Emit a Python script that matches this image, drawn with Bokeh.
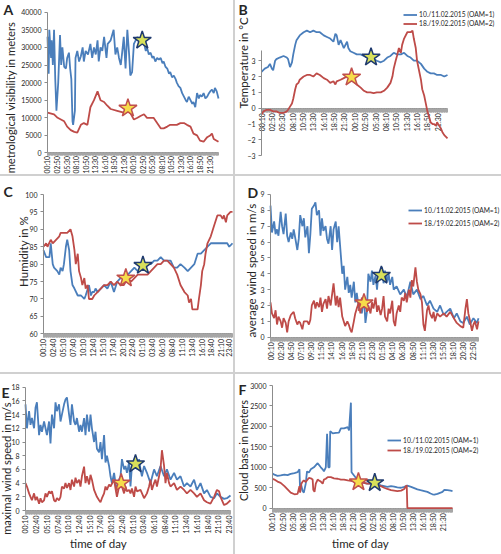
import math
from bokeh.plotting import figure
from bokeh.models import Range1d, FixedTicker, Legend, LegendItem, Div, Label
from bokeh.layouts import column, row
from bokeh.embed import file_html
from bokeh.resources import INLINE

FONT = "Lato"
BLUE = "#4a7ebb"
RED = "#be4b48"
AXIS_GRAY = "#8c8c8c"
TICK_GRAY = "#a6a6a6"
TEXT = "#262626"
SEP = "#d0d0d0"

series_names = ["10./11.02.2015 (OAM=1)", "18./19.02.2015 (OAM=2)"]

# x positions are 10-minute sample numbers (0 = 00:10 of the first day)
ticks_160 = ["00:10", "02:50", "05:30", "08:10", "10:50", "13:30", "16:10", "18:50", "21:30",
             "00:10", "02:50", "05:30", "08:10", "10:50", "13:30", "16:10", "18:50", "21:30"]
ticks_150 = ["00:10", "02:40", "05:10", "07:40", "10:10", "12:40", "15:10", "17:40", "20:10", "22:40",
             "01:10", "03:40", "06:10", "08:40", "11:10", "13:40", "16:10", "18:40", "21:10", "23:40"]
ticks_140 = ["00:10", "02:30", "04:50", "07:10", "09:30", "11:50", "14:10", "16:30", "18:50", "21:10", "23:30",
             "01:50", "04:10", "06:30", "08:50", "11:10", "13:30", "15:50", "18:10", "20:30", "22:50"]

# A: meteorological visibility (m)
vis_oam1 = [(0, 33000), (2, 22500), (3, 35000), (6, 27000), (7, 32000), (9, 25000), (11, 35000), (13, 21000),
            (15, 12000), (18, 20000), (21, 33500), (23, 25000), (25, 30000), (28, 24500), (31, 24000), (33, 27000),
            (36, 28500), (38, 24000), (40, 21000), (42, 9000), (43, 8000), (46, 12000), (47, 27000), (50, 29000),
            (53, 26000), (56, 27500), (59, 30000), (61, 26000), (64, 29000), (68, 28000), (72, 31000), (75, 27000),
            (78, 30000), (81, 28000), (84, 32000), (86, 26000), (89, 30000), (92, 29000), (95, 33000), (99, 27000),
            (101, 31000), (106, 32000), (111, 35000), (114, 28000), (117, 30000), (120, 27000), (123, 25000),
            (125, 28000), (128, 33000), (131, 24000), (134, 35000), (137, 28000), (139, 22000), (142, 23000),
            (145, 31000), (151, 33000), (156, 31000), (159, 32000), (162, 31000), (165, 29000), (167, 30000),
            (170, 28000), (173, 28500), (176, 27000), (178, 27500), (181, 26000), (184, 27000), (187, 26500),
            (190, 27000), (193, 25500), (195, 26000), (198, 24500), (201, 24000), (204, 22500), (206, 23000),
            (209, 21500), (212, 22000), (215, 21000), (217, 20000), (220, 19000), (223, 18500), (226, 17000),
            (229, 16000), (232, 15000), (234, 14500), (237, 16000), (240, 15000), (243, 14000), (245, 14500),
            (248, 13000), (251, 17000), (254, 15500), (256, 16500), (259, 16000), (262, 17000), (265, 15500),
            (268, 16000), (271, 17000), (273, 17500), (276, 18000), (279, 17000), (281, 18500), (284, 17500),
            (287, 15500)]
vis_oam2 = [(0, 11500), (11, 11000), (17, 10000), (28, 9000), (33, 7500), (39, 6500), (45, 6000), (50, 5800),
            (56, 8000), (61, 8500), (67, 8000), (72, 13000), (78, 15000), (84, 17500), (89, 15000), (95, 14500),
            (100, 13500), (106, 12500), (117, 12000), (128, 11500), (137, 12000), (145, 9500), (151, 10000),
            (156, 10500), (162, 11000), (167, 10000), (178, 10000), (184, 8500), (190, 7000), (195, 7000),
            (201, 7500), (206, 8000), (217, 8000), (223, 8500), (229, 8500), (234, 8000), (240, 7500), (245, 5500),
            (251, 5000), (256, 3500), (262, 3200), (268, 4500), (273, 5000), (276, 5500), (279, 4000), (284, 3500),
            (287, 3200)]
vis_stars = [(159, 32000), (135, 12700)]

# B: temperature (deg C)
temp_oam1 = [(0, 2.3), (5, 2.5), (10, 2.6), (13, 2.8), (16, 2.5), (18, 2.4), (21, 3.0), (23, 3.1), (28, 3.2),
             (34, 3.3), (39, 3.2), (41, 3.1), (44, 2.6), (47, 2.9), (49, 3.4), (52, 4.0), (54, 4.3), (59, 4.6),
             (65, 4.8), (70, 4.9), (75, 4.8), (80, 4.9), (85, 4.8), (90, 4.8), (96, 4.6), (101, 4.5), (106, 4.4),
             (111, 4.2), (114, 4.7), (116, 4.6), (119, 4.0), (122, 4.3), (127, 3.8), (132, 4.2), (134, 3.8),
             (137, 3.6), (142, 3.5), (147, 3.4), (153, 3.4), (158, 3.3), (163, 3.2), (168, 3.3), (173, 3.1),
             (178, 3.0), (184, 2.9), (189, 3.0), (194, 3.2), (199, 3.3), (204, 3.5), (209, 3.4), (215, 3.4),
             (220, 3.5), (225, 3.3), (230, 3.2), (235, 3.0), (240, 3.0), (246, 2.8), (251, 2.5), (256, 2.3),
             (261, 2.2), (266, 2.2), (271, 2.1), (277, 2.1), (282, 2.0), (287, 2.1)]
temp_oam2 = [(0, -0.4), (3, -0.2), (8, -0.1), (13, -0.1), (18, -0.2), (23, -0.2), (28, -0.3), (34, -0.3),
             (39, -0.2), (41, -0.1), (44, 0.1), (47, 0.3), (49, 0.6), (52, 1.2), (54, 1.5), (57, 1.6), (59, 1.8),
             (65, 2.0), (70, 2.1), (75, 2.1), (80, 2.0), (85, 2.2), (90, 2.1), (96, 1.9), (101, 1.8), (106, 1.6),
             (111, 1.7), (114, 1.5), (116, 1.7), (122, 1.8), (127, 1.9), (132, 2.0), (137, 1.9), (142, 1.7),
             (147, 1.5), (153, 1.3), (158, 1.1), (163, 1.0), (168, 1.0), (173, 0.95), (178, 1.0), (184, 1.0),
             (189, 1.1), (194, 1.3), (199, 1.6), (202, 2.0), (204, 2.5), (207, 3.0), (209, 3.3), (212, 3.8),
             (215, 3.5), (217, 4.0), (220, 4.4), (225, 4.8), (230, 4.8), (233, 4.9), (235, 4.4), (238, 3.8),
             (240, 3.0), (243, 2.4), (246, 1.8), (248, 1.2), (251, 0.8), (253, 0.4), (256, -0.2), (259, -0.6),
             (261, -0.9), (264, -1.0), (266, -1.0), (269, -1.1), (271, -0.9), (274, -1.1), (277, -1.3),
             (279, -1.5), (282, -1.7), (287, -1.9)]
temp_stars = [(169, 3.22), (139, 1.96)]

# C: humidity (%)
hum_oam1 = [(0, 84), (4, 82), (9, 82), (11, 86), (14, 80), (16, 79), (21, 78), (24, 77), (26, 79), (29, 78),
            (31, 80), (34, 85), (36, 87), (39, 84), (41, 78), (44, 74), (47, 73), (52, 71), (57, 71), (62, 70),
            (64, 71), (69, 74), (72, 71), (74, 72), (77, 72), (79, 73), (82, 72), (87, 73), (92, 74), (97, 73),
            (102, 75), (107, 72), (112, 75), (117, 76), (122, 76), (128, 77), (133, 78), (138, 79), (143, 78),
            (148, 79), (153, 79), (158, 80), (163, 80), (168, 81), (173, 81), (178, 82), (183, 81), (188, 81),
            (193, 81), (198, 79), (203, 79), (208, 80), (214, 79), (219, 78), (224, 79), (229, 80), (234, 83),
            (239, 83), (244, 84), (249, 85), (254, 86), (259, 86), (264, 86), (269, 86), (274, 86), (279, 86),
            (282, 85), (287, 86)]
hum_oam2 = [(0, 85), (4, 86), (6, 85), (11, 87), (14, 86), (19, 87), (24, 88), (26, 89), (36, 89), (41, 90),
            (44, 88), (47, 84), (49, 80), (52, 83), (54, 78), (57, 76), (59, 74), (62, 76), (64, 73), (67, 74),
            (69, 70), (74, 70), (77, 71), (82, 72), (87, 73), (92, 74), (97, 74), (102, 75), (107, 74), (112, 75),
            (117, 74), (122, 74), (128, 76), (133, 75), (138, 76), (143, 77), (148, 77), (153, 77), (158, 77),
            (163, 78), (168, 79), (173, 80), (178, 80), (183, 81), (188, 81), (193, 80), (198, 79), (203, 77),
            (208, 74), (214, 72), (219, 71), (221, 69), (224, 70), (226, 67), (231, 67), (234, 67), (236, 70),
            (239, 74), (241, 78), (244, 80), (246, 83), (249, 86), (254, 88), (259, 91), (264, 94), (269, 94),
            (272, 93), (274, 94), (277, 92), (279, 94), (284, 95), (287, 95)]
hum_stars = [(151, 79.6), (125, 76.0)]

# D: average wind speed (m/s)
avgwind_oam1 = [(0, 8.3), (2, 6.6), (5, 7.3), (7, 6.5), (9, 6.8), (11, 6.4), (14, 7.9), (16, 7.0), (18, 6.5),
                (21, 7.8), (23, 6.4), (25, 6.0), (28, 6.6), (30, 6.2), (32, 6.8), (34, 6.3), (37, 5.5), (39, 6.2),
                (41, 7.7), (44, 7.0), (46, 7.5), (48, 6.3), (51, 7.0), (53, 5.3), (55, 6.5), (57, 8.1), (60, 8.3),
                (62, 8.5), (64, 7.7), (67, 8.0), (69, 6.4), (71, 7.5), (73, 6.7), (76, 7.0), (78, 6.2), (80, 5.9),
                (83, 7.0), (85, 5.5), (87, 6.8), (90, 7.3), (92, 6.0), (94, 7.0), (96, 5.8), (99, 4.0), (101, 4.5),
                (103, 3.0), (106, 3.8), (108, 2.8), (110, 3.3), (112, 2.5), (115, 3.5), (117, 2.2), (119, 2.8),
                (122, 1.8), (124, 2.2), (126, 1.5), (129, 2.5), (131, 0.9), (133, 1.6), (135, 4.0), (138, 3.5),
                (140, 4.2), (142, 3.3), (145, 3.9), (147, 3.0), (149, 4.1), (152, 3.6), (154, 4.4), (156, 3.4),
                (158, 4.2), (161, 3.5), (163, 4.0), (165, 3.3), (168, 3.8), (170, 3.0), (174, 3.2), (179, 2.7),
                (184, 3.0), (188, 2.5), (193, 3.5), (197, 2.7), (202, 3.0), (207, 2.4), (211, 2.6), (216, 2.0),
                (220, 2.3), (225, 1.8), (230, 1.6), (234, 2.0), (239, 1.4), (243, 1.6), (248, 1.8), (253, 1.2),
                (257, 1.5), (262, 1.0), (266, 0.9), (271, 1.3), (275, 0.8), (280, 1.2), (285, 0.9), (287, 1.2)]
avgwind_oam2 = [(0, 2.2), (2, 1.5), (5, 1.2), (7, 1.7), (9, 0.8), (11, 1.3), (14, 1.0), (16, 0.6), (18, 1.2),
                (21, 0.9), (23, 0.3), (25, 1.0), (28, 1.4), (30, 1.5), (32, 1.6), (34, 1.2), (37, 0.8), (39, 1.0),
                (41, 0.9), (44, 0.5), (46, 1.0), (51, 1.0), (53, 0.8), (55, 1.1), (57, 2.0), (60, 2.3), (62, 1.8),
                (64, 2.2), (67, 1.9), (69, 2.5), (71, 1.6), (73, 2.1), (76, 2.4), (78, 1.8), (80, 2.6), (83, 2.0),
                (85, 2.7), (87, 3.4), (90, 2.0), (92, 2.6), (94, 1.9), (96, 2.5), (99, 1.3), (101, 1.0), (103, 0.7),
                (106, 1.0), (108, 0.8), (110, 0.5), (112, 0.3), (115, 1.0), (117, 1.5), (119, 1.8), (122, 2.2),
                (124, 1.5), (126, 2.5), (129, 2.0), (131, 2.3), (133, 1.6), (135, 2.0), (138, 1.5), (140, 2.2),
                (142, 1.8), (145, 2.5), (147, 1.6), (149, 2.0), (152, 1.4), (154, 1.8), (156, 2.6), (158, 1.3),
                (161, 1.0), (163, 1.8), (165, 1.5), (168, 2.3), (170, 1.0), (172, 0.7), (174, 1.5), (177, 2.0),
                (179, 1.6), (181, 2.5), (184, 2.3), (186, 2.8), (188, 2.2), (191, 3.0), (193, 2.5), (195, 3.6),
                (197, 3.2), (200, 4.4), (202, 3.5), (204, 3.0), (207, 2.7), (209, 2.2), (211, 0.8), (213, 0.4),
                (216, 1.7), (218, 2.0), (220, 1.5), (223, 1.2), (225, 1.6), (227, 1.0), (230, 1.5), (234, 1.3),
                (239, 1.5), (243, 1.3), (248, 1.6), (253, 1.2), (257, 0.9), (262, 0.7), (266, 0.6), (269, 1.8),
                (271, 2.4), (273, 1.5), (275, 1.1), (278, 0.4), (280, 0.8), (282, 1.0), (285, 0.5), (287, 1.0)]
avgwind_stars = [(153, 3.9), (129, 2.16)]

# E: maximal wind speed (m/s)
maxwind_oam1 = [(0, 15.5), (2, 12.0), (5, 14.5), (7, 12.5), (9, 13.5), (12, 12.0), (14, 15.0), (16, 15.8),
                (19, 11.0), (21, 12.5), (23, 11.5), (26, 13.0), (28, 12.0), (30, 11.0), (33, 13.0), (35, 9.8),
                (37, 14.0), (40, 12.0), (42, 15.8), (44, 14.5), (47, 15.5), (49, 13.0), (51, 14.0), (54, 15.5),
                (56, 16.2), (58, 16.5), (61, 14.0), (63, 12.5), (65, 15.5), (68, 13.0), (70, 12.5), (72, 13.5),
                (75, 11.5), (77, 12.5), (79, 11.5), (82, 13.5), (84, 11.0), (86, 14.0), (89, 11.5), (91, 14.0),
                (93, 12.0), (96, 10.0), (98, 11.5), (100, 9.0), (103, 8.5), (105, 10.0), (107, 7.5), (110, 11.0),
                (112, 7.0), (114, 8.0), (117, 6.5), (119, 5.0), (121, 4.0), (124, 5.5), (126, 4.0), (128, 3.0),
                (131, 4.5), (133, 5.0), (135, 7.5), (138, 6.0), (140, 6.5), (142, 5.5), (145, 7.0), (147, 3.5),
                (149, 6.5), (152, 7.5), (154, 7.0), (156, 6.0), (159, 7.5), (161, 6.0), (163, 5.0), (166, 6.5),
                (170, 5.5), (175, 4.0), (180, 6.0), (184, 5.0), (189, 6.5), (194, 5.0), (198, 6.0), (203, 4.5),
                (208, 5.5), (212, 4.5), (217, 5.0), (222, 3.5), (226, 4.0), (231, 3.5), (236, 4.5), (240, 3.0),
                (245, 4.0), (250, 2.5), (254, 3.0), (259, 2.0), (264, 1.8), (268, 2.5), (273, 2.0), (278, 1.7),
                (282, 1.8), (287, 2.2)]
maxwind_oam2 = [(0, 4.0), (2, 3.5), (5, 2.5), (7, 2.0), (9, 1.5), (12, 2.5), (14, 1.5), (16, 2.0), (19, 1.0),
                (21, 1.8), (23, 1.2), (26, 1.5), (28, 2.5), (30, 2.0), (33, 2.8), (35, 2.5), (37, 2.8), (40, 1.5),
                (42, 1.3), (44, 1.8), (47, 1.5), (49, 2.0), (51, 3.5), (54, 3.2), (56, 4.0), (58, 3.3), (61, 4.0),
                (63, 3.0), (65, 4.5), (68, 3.5), (70, 4.8), (72, 4.0), (75, 4.5), (77, 3.5), (79, 5.0), (82, 6.4),
                (84, 4.0), (86, 5.0), (89, 3.8), (91, 5.2), (93, 4.5), (96, 3.0), (98, 2.5), (100, 2.0), (103, 1.5),
                (105, 1.2), (107, 1.8), (110, 2.5), (112, 3.5), (114, 3.0), (117, 3.8), (119, 3.5), (124, 4.5),
                (126, 3.2), (128, 2.0), (131, 3.5), (133, 4.0), (135, 3.5), (138, 2.5), (140, 3.5), (142, 2.8),
                (145, 3.0), (147, 2.5), (149, 3.2), (152, 2.0), (154, 3.5), (156, 2.8), (161, 3.0), (166, 1.8),
                (170, 2.5), (173, 3.5), (175, 4.5), (177, 3.0), (180, 4.0), (182, 4.5), (184, 3.5), (187, 5.0),
                (189, 6.0), (191, 8.8), (194, 6.5), (196, 4.0), (198, 5.5), (201, 4.0), (203, 3.5), (208, 4.0),
                (212, 3.0), (217, 3.5), (222, 3.0), (226, 2.5), (231, 3.0), (236, 2.5), (240, 2.0), (245, 2.5),
                (250, 1.5), (254, 1.2), (259, 1.0), (264, 2.0), (268, 3.0), (271, 2.8), (273, 2.0), (278, 0.8),
                (282, 1.0), (287, 1.5)]
maxwind_stars = [(154, 6.8), (134, 4.0)]

# F: cloud base (m)
cloud_oam1 = [(0, 850), (3, 820), (8, 790), (13, 800), (19, 820), (24, 810), (29, 840), (35, 860), (40, 880),
              (43, 950), (44, 400), (45, 620), (48, 420), (50, 380), (53, 600), (55, 900), (58, 870), (61, 950),
              (66, 1000), (72, 1100), (77, 1000), (80, 950), (82, 900), (85, 1000), (87, 1820), (89, 1000),
              (91, 1000), (92, 1880), (96, 1830), (101, 1840), (106, 1850), (109, 1950), (114, 1950), (120, 1980),
              (122, 1900), (125, 2580), (126, 880), (130, 800), (135, 700), (141, 650), (146, 620), (151, 600),
              (157, 600), (162, 620), (167, 590), (173, 560), (178, 540), (183, 520), (189, 540), (194, 530),
              (199, 510), (205, 500), (210, 520), (215, 550), (221, 520), (226, 490), (231, 460), (236, 440),
              (242, 420), (247, 400), (252, 360), (255, 340), (258, 330), (263, 350), (268, 380), (271, 400),
              (274, 450), (279, 440), (284, 430), (287, 420)]
cloud_oam2 = [(0, 720), (3, 700), (8, 650), (13, 620), (19, 540), (24, 460), (29, 380), (35, 340), (40, 350),
              (43, 540), (44, 380), (46, 600), (48, 650), (50, 680), (53, 640), (56, 700), (58, 740), (61, 730),
              (64, 700), (65, 450), (67, 400), (69, 600), (72, 700), (74, 680), (77, 650), (80, 600), (82, 700),
              (85, 720), (88, 760), (93, 760), (98, 730), (104, 720), (109, 700), (114, 700), (120, 680),
              (125, 670), (130, 660), (135, 650), (141, 640), (146, 620), (151, 600), (157, 600), (162, 580),
              (167, 560), (173, 540), (178, 500), (183, 470), (189, 440), (194, 430), (199, 420), (205, 430),
              (210, 470), (213, 540), (214, 560), (215, 0), (287, 0)]
cloud_stars = [(163, 620), (137, 640)]


def unzip(pairs):
    return [a for a, _ in pairs], [b for _, b in pairs]


def make_fig(w, h, xr, yr, yticks, ybounds, x_at, xstep, xlabels, xfont="7px", xstandoff=1, xtick=4):
    """Whole canvas is the plot frame; axes sit at fixed data locations inside it."""
    p = figure(width=w, height=h, x_range=Range1d(*xr), y_range=Range1d(*yr),
               output_backend="svg", toolbar_location=None,
               min_border_left=0, min_border_right=0, min_border_top=0, min_border_bottom=0)
    p.outline_line_color = None
    p.xgrid.visible = False
    p.ygrid.visible = False
    xa = p.xaxis[0]
    xt = [k * xstep for k in range(len(xlabels))]
    xa.ticker = FixedTicker(ticks=xt, minor_ticks=list(range(288)))
    xa.major_label_overrides = {t: s for t, s in zip(xt, xlabels)}
    xa.major_label_orientation = math.pi / 2
    xa.fixed_location = x_at
    xa.bounds = (0, 287)
    xa.axis_line_color = AXIS_GRAY
    xa.major_tick_line_color = TICK_GRAY
    xa.minor_tick_line_color = TICK_GRAY
    xa.major_tick_in = 0
    xa.major_tick_out = xtick
    xa.minor_tick_in = 0
    xa.minor_tick_out = xtick
    xa.major_label_standoff = xstandoff
    xa.major_label_text_font = FONT
    xa.major_label_text_font_size = xfont
    xa.major_label_text_color = TEXT
    xa.level = "underlay"
    ya = p.yaxis[0]
    ya.ticker = FixedTicker(ticks=yticks)
    ya.fixed_location = 0
    ya.bounds = ybounds
    ya.axis_line_color = AXIS_GRAY
    ya.major_tick_line_color = AXIS_GRAY
    ya.major_tick_in = 0
    ya.major_tick_out = 3
    ya.minor_tick_line_color = None
    ya.major_label_standoff = 3
    ya.major_label_text_font = FONT
    ya.major_label_text_font_size = "7px"
    ya.major_label_text_color = TEXT
    return p


def draw(p, blue, red, stars, legend_loc=None, item_h=10, legend_spacing=0):
    bx, by = unzip(blue)
    rx, ry = unzip(red)
    r1 = p.line(bx, by, line_color=BLUE, line_width=1.8)
    r2 = p.line(rx, ry, line_color=RED, line_width=1.8)
    sx, sy = unzip(stars)
    p.scatter([sx[0]], [sy[0]], marker="star", size=19, fill_color="#d8e05a", line_color="#1f3a6e",
              line_width=1.5)
    p.scatter([sx[1]], [sy[1]], marker="star", size=19, fill_color="#f6dc4a", line_color="#c0504d",
              line_width=1.5)
    if legend_loc is not None:
        leg = Legend(items=[LegendItem(label=series_names[0], renderers=[r1]),
                            LegendItem(label=series_names[1], renderers=[r2])],
                     location=legend_loc)
        leg.label_text_font = FONT
        leg.label_text_font_size = "6.7px"
        leg.label_text_color = TEXT
        leg.glyph_width = 14
        leg.glyph_height = item_h
        leg.label_height = item_h
        leg.label_standoff = 2
        leg.spacing = legend_spacing
        leg.padding = 0
        leg.margin = 0
        leg.border_line_color = None
        leg.background_fill_alpha = 0
        p.add_layout(leg)


def text(p, x, y, s, size="11.5px", bold=False, angle=0.0, align="center", baseline="middle"):
    p.add_layout(Label(x=x, y=y, x_units="screen", y_units="screen", text=s, angle=angle,
                       text_font=FONT, text_font_size=size, text_color=TEXT,
                       text_font_style="bold" if bold else "normal",
                       text_align=align, text_baseline=baseline))


def letter(p, x, y, s):
    text(p, x, y, s, size="14px", bold=True, align="left", baseline="top")


V = math.pi / 2

# ---- row 1 ----
pA = make_fig(233, 174, (-78.88, 312.17), (-6108, 43324), list(range(0, 40001, 5000)), (0, 40000), 0, 16,
              ticks_160, xfont="6.8px", xstandoff=0, xtick=3)
draw(pA, vis_oam1, vis_oam2, vis_stars)
letter(pA, 3, 173.5, "A")
text(pA, 10, 77, "metrological visibility in meters", size="11.2px", angle=V)

pB = make_fig(266, 174, (-40.12, 370.3), (-4.188, 6.804), [-3, -2, -1, 0, 1, 2, 3], (-3, 3.64), 0, 16, ticks_160)
draw(pB, temp_oam1, temp_oam2, temp_stars, legend_loc=(168, 146.2), item_h=9, legend_spacing=0)
letter(pB, 3, 173.5, "B")
text(pB, 7.5, 111.5, "Temperature in °C", angle=V)

# ---- row 2 ----
pC = make_fig(233, 196, (-65.3, 288.5), (48.89, 105.17), list(range(60, 101, 5)), (60, 100), 60, 15, ticks_150)
draw(pC, hum_oam1, hum_oam2, hum_stars)
letter(pC, 3, 189.5, "C")
text(pC, 22.5, 121, "Humidity in %", angle=V)

pD = make_fig(266, 196, (-48.3, 318.75), (-2.226, 10.135), list(range(0, 10)), (0, 9), 0, 14, ticks_140)
draw(pD, avgwind_oam1, avgwind_oam2, avgwind_stars, legend_loc=(173, 143.5), item_h=12, legend_spacing=1)
letter(pD, 12, 188.5, "D")
text(pD, 16, 102, "average wind speed in m/s", angle=V)

# ---- row 3 ----
pE = make_fig(233, 180, (-35.0, 291.2), (-6.423, 19.854), list(range(0, 19, 2)), (0, 18), 0, 15, ticks_150)
draw(pE, maxwind_oam1, maxwind_oam2, maxwind_stars)
letter(pE, 1, 170.5, "E")
text(pE, 6, 86, "maximal wind speed in m/s", size="11.2px", angle=V)
text(pE, 98, 11, "time of day")

pF = make_fig(266, 180, (-59.0, 365.1), (-1132, 3269), list(range(0, 3001, 500)), (0, 3000), 0, 16, ticks_160)
draw(pF, cloud_oam1, cloud_oam2, cloud_stars, legend_loc=(152, 99.5), item_h=10, legend_spacing=0)
letter(pF, 3, 173.5, "F")
text(pF, 7.5, 104, "Cloud base in meters", size="11px", angle=V)
text(pF, 125, 11, "time of day")


def vsep(h):
    return Div(text="", width=2, height=h, margin=0, styles={"background-color": SEP})


def hsep():
    return Div(text="", width=501, height=2, margin=0, styles={"background-color": SEP})


layout = column(
    row(pA, vsep(174), pB, spacing=0),
    hsep(),
    row(pC, vsep(196), pD, spacing=0),
    hsep(),
    row(pE, vsep(180), pF, spacing=0),
    spacing=0,
)

open("out.html", "w").write(file_html(layout, INLINE))
